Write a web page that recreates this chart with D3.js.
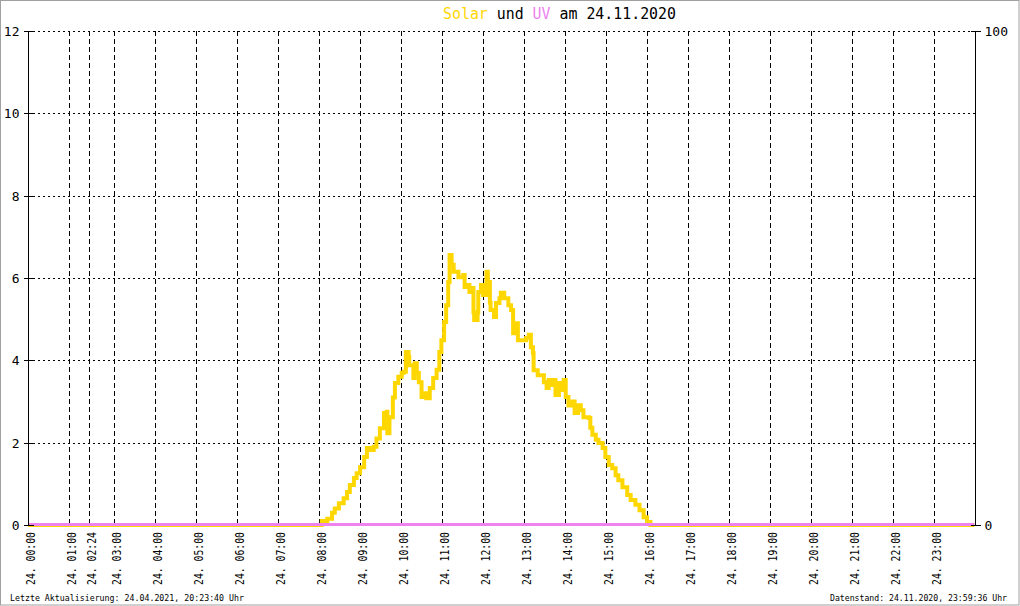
<!DOCTYPE html>
<html><head><meta charset="utf-8">
<script src="https://cdn.jsdelivr.net/npm/d3@7"></script>
<style>
html,body{margin:0;padding:0;background:#fff;}
svg{display:block;}
text{font-family:"DejaVu Sans Mono","Liberation Mono",monospace;}
</style></head>
<body>
<svg id="chart" width="1020" height="606"></svg>
<script>
// ---------------- data ----------------
const titleDate = "24.11.2020";
const footerLeft = "Letzte Aktualisierung: 24.04.2021, 20:23:40 Uhr";
const footerRight = "Datenstand: 24.11.2020, 23:59:36 Uhr";

// hours of the day at which the x labels sit (02:24 = first sample after a data gap)
const tickTimes = ["00:00","01:00","02:24","03:00","04:00","05:00","06:00","07:00","08:00","09:00","10:00","11:00",
  "12:00","13:00","14:00","15:00","16:00","17:00","18:00","19:00","20:00","21:00","22:00","23:00"];
const tickLabels = tickTimes.map(t => "24. " + t);
// missing-data interval (hours) that the time axis skips
const dataGap = [1.5, 2.4];

const leftTicks = [0, 2, 4, 6, 8, 10, 12];
const rightTicks = [0, 100];

const solarTimes = ["00:00","08:02","08:04","08:12","08:19","08:23","08:29","08:36","08:41","08:45","08:51","08:55",
  "09:00","09:06","09:10","09:14","09:20","09:24","09:29","09:35","09:39","09:40","09:43","09:48","09:51","09:56",
  "10:01","10:04","10:07","10:11","10:12","10:18","10:20","10:23","10:26","10:30","10:34","10:37","10:42","10:47",
  "10:52","10:56","10:59","11:03","11:06","11:09","11:11","11:14","11:17","11:21","11:24","11:31","11:33","11:38",
  "11:40","11:43","11:46","11:47","11:52","11:53","11:57","12:00","12:05","12:07","12:10","12:11","12:16","12:19",
  "12:24","12:26","12:31","12:37","12:41","12:44","12:48","12:51","12:58","13:03","13:07","13:10","13:13","13:14",
  "13:20","13:25","13:29","13:33","13:36","13:41","13:44","13:46","13:51","13:55","13:58","14:01","14:05","14:11",
  "14:14","14:19","14:23","14:27","14:35","14:37","14:40","14:45","14:49","14:55","14:59","15:04","15:09","15:14",
  "15:18","15:24","15:31","15:36","15:43","15:49","15:55","16:00","16:05","23:59"];
const solarValues = [0,0,0.1,0.15,0.3,0.4,0.53,0.65,0.8,0.97,1.14,1.26,
  1.4,1.65,1.87,1.82,1.9,2.1,2.35,2.72,2.75,2.23,2.62,3.1,3.45,3.6,
  3.7,3.72,4.2,4.08,3.88,3.57,3.93,3.69,3.47,3.11,3.2,3.08,3.33,3.57,
  3.77,4.2,4.49,4.93,5.34,5.9,6.56,6.32,6.15,6.15,6.02,6.07,5.78,5.83,
  5.66,5.76,5.17,4.98,5.17,5.66,5.83,5.59,6.15,5.9,5.4,5.22,5.05,5.39,
  5.51,5.64,5.51,5.34,5.22,4.66,4.9,4.49,4.49,4.54,4.62,4.32,4.18,3.76,
  3.64,3.64,3.47,3.33,3.52,3.4,3.52,3.16,3.45,3.28,3.52,3.11,2.9,3.0,
  2.72,2.91,2.79,2.62,2.6,2.36,2.19,2.07,1.99,1.87,1.65,1.46,1.38,1.21,
  1.09,0.92,0.73,0.61,0.49,0.36,0.19,0.07,0,0];

const uvTimes = ["00:00","23:59"];
const uvValues = [0, 0];

// ---------------- drawing ----------------
const W = 1020, H = 606;
const X0 = 28, X1 = 975, YT = 31, YB = 525;
const svg = d3.select("#chart");
const hours = s => { const [h, m] = s.split(":").map(Number); return h + m / 60; };

const k = (X1 - X0) / (24 - (dataGap[1] - dataGap[0]));
const x = d3.scaleLinear()
  .domain([0, dataGap[0], dataGap[1], 24])
  .range([X0, X0 + dataGap[0] * k, X0 + dataGap[0] * k, X1]);
const y = d3.scaleLinear().domain([0, 12]).range([YB, YT]);
const yR = d3.scaleLinear().domain([0, 100]).range([YB, YT]);

// frame
svg.append("rect").attr("x", 0.5).attr("y", 0.5).attr("width", W - 1.5).attr("height", H - 1.5)
  .attr("fill", "#fff").attr("stroke", "#a0a0a0").attr("stroke-width", 1);

// horizontal grid
svg.append("g").selectAll("line").data(leftTicks.filter(d => d > 0)).join("line")
  .attr("x1", X0).attr("x2", X1)
  .attr("y1", d => Math.round(y(d)) + 0.5).attr("y2", d => Math.round(y(d)) + 0.5)
  .attr("stroke", "#000").attr("stroke-width", 1).attr("stroke-dasharray", "2,3")
  .attr("shape-rendering", "crispEdges");

// vertical grid
svg.append("g").selectAll("line").data(tickTimes.slice(1)).join("line")
  .attr("x1", d => Math.round(x(hours(d))) + 0.5).attr("x2", d => Math.round(x(hours(d))) + 0.5)
  .attr("y1", YT).attr("y2", YB)
  .attr("stroke", "#000").attr("stroke-width", 1).attr("stroke-dasharray", "5,3")
  .attr("shape-rendering", "crispEdges");

// solar line
const solar = solarTimes.map((t, i) => [hours(t), solarValues[i]]);
svg.append("path").datum(solar)
  .attr("fill", "none").attr("stroke", "#ffd700").attr("stroke-width", 4)
  .attr("stroke-linejoin", "miter")
  .attr("d", d3.line().curve(d3.curveStepAfter).x(d => x(d[0])).y(d => y(d[1])));

// UV line
const uv = uvTimes.map((t, i) => [hours(t), uvValues[i]]);
svg.append("path").datum(uv)
  .attr("fill", "none").attr("stroke", "#ee82ee").attr("stroke-width", 3)
  .attr("d", d3.line().x(d => x(d[0])).y(d => yR(d[1]) - 0.5));

// left axis
const gl = svg.append("g").attr("transform", `translate(${X0 + 0.5},0)`);
gl.append("line").attr("y1", YT).attr("y2", YB).attr("stroke", "#000").attr("stroke-width", 1)
  .attr("shape-rendering", "crispEdges");
gl.selectAll("line.t").data(leftTicks).join("line").attr("class", "t")
  .attr("x1", -5).attr("x2", 5).attr("y1", d => Math.round(y(d)) + 0.5).attr("y2", d => Math.round(y(d)) + 0.5)
  .attr("stroke", "#000").attr("shape-rendering", "crispEdges");
gl.selectAll("text").data(leftTicks).join("text")
  .attr("x", -9).attr("y", d => y(d) + 5).attr("text-anchor", "end")
  .attr("font-size", 13).attr("fill", "#000").text(d => d);

// right axis
const gr = svg.append("g").attr("transform", `translate(${X1 + 0.5},0)`);
gr.append("line").attr("y1", YT).attr("y2", YB).attr("stroke", "#000").attr("stroke-width", 1)
  .attr("shape-rendering", "crispEdges");
gr.selectAll("line.t").data(rightTicks).join("line").attr("class", "t")
  .attr("x1", -5).attr("x2", 5).attr("y1", d => Math.round(yR(d)) + 0.5).attr("y2", d => Math.round(yR(d)) + 0.5)
  .attr("stroke", "#000").attr("shape-rendering", "crispEdges");
gr.selectAll("text").data(rightTicks).join("text")
  .attr("x", 9).attr("y", d => yR(d) + 5).attr("text-anchor", "start")
  .attr("font-size", 13).attr("fill", "#000").text(d => d);

// bottom labels (rotated)
svg.append("g").selectAll("text").data(tickTimes).join("text")
  .attr("transform", (d) => `translate(${Math.round(x(hours(d))) + 7},585) rotate(-90)`)
  .attr("text-anchor", "start").attr("font-size", 12)
  .attr("textLength", 53).attr("lengthAdjust", "spacingAndGlyphs")
  .attr("fill", "#000")
  .text((d, i) => tickLabels[i]);

// title
const title = svg.append("text").attr("x", 443).attr("y", 19).attr("font-size", 15)
  .attr("textLength", 233).attr("lengthAdjust", "spacingAndGlyphs");
title.append("tspan").attr("fill", "#ffd700").text("Solar");
title.append("tspan").attr("fill", "#000").text(" und ");
title.append("tspan").attr("fill", "#ee82ee").text("UV");
title.append("tspan").attr("fill", "#000").text(" am " + titleDate);

// footers
svg.append("text").attr("x", 10).attr("y", 601).attr("font-size", 9)
  .attr("textLength", 234).attr("lengthAdjust", "spacingAndGlyphs").attr("fill", "#000").text(footerLeft);
svg.append("text").attr("x", 830).attr("y", 601).attr("font-size", 9).attr("text-anchor", "start")
  .attr("textLength", 177).attr("lengthAdjust", "spacingAndGlyphs").attr("fill", "#000").text(footerRight);
</script>
</body></html>
